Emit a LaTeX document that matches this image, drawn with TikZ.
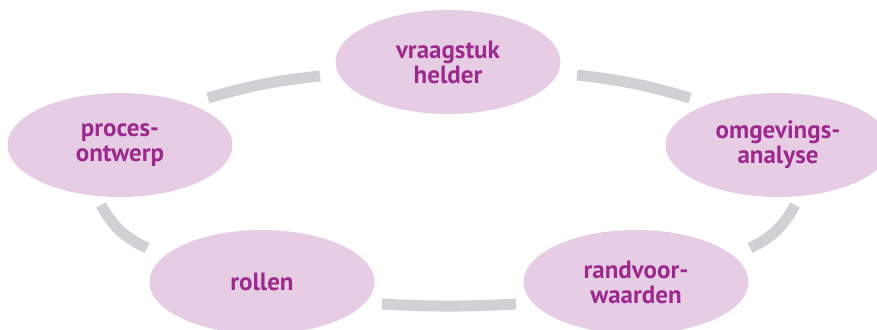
\documentclass[tikz,border=0pt]{standalone}
\usepackage{fontspec}
\setmainfont{PT Sans}
\usetikzlibrary{shapes.geometric}
\definecolor{ellfill}{HTML}{E6CDE4}
\definecolor{txtpurple}{HTML}{9C2A8E}
\definecolor{ringgray}{HTML}{D0D1D3}
\tikzset{
  stage/.style={ellipse, fill=ellfill, draw=none, minimum width=225pt, minimum height=104pt,
    inner sep=0pt, align=center, text=txtpurple,
    font=\fontsize{25}{25}\selectfont\bfseries},
  ring/.style={draw=ringgray, line width=11pt, line cap=butt}
}
\begin{document}
\begin{tikzpicture}[x=1pt,y=-1pt]
\useasboundingbox (0,0) rectangle (877,329);
% ring segments
\coordinate (a1) at (208,98);
\coordinate (a2) at (320,76);
\coordinate (b1) at (577,75);
\coordinate (b2) at (690,98);
\coordinate (c1) at (795,205);
\coordinate (c2) at (750,248);
\coordinate (d1) at (516,304);
\coordinate (d2) at (382,304);
\coordinate (e1) at (147,248);
\coordinate (e2) at (101,205);
\draw[ring] (a1) to[bend left=5] (a2);
\draw[ring] (b1) to[bend left=5] (b2);
\draw[ring] (c1) to[bend left=18] (c2);
\draw[ring] (d1) to[bend left=3] (d2);
\draw[ring] (e1) to[bend left=18] (e2);
% stages
\node[stage] (vraag) at (448,62) {vraagstuk\\helder};
\node[stage] (omg) at (778,145) {omgevings-\\analyse};
\node[stage] (rand) at (636,282) {randvoor-\\waarden};
\node[stage] (rol) at (262,282) {rollen};
\node[stage] (proc) at (120,145) {proces-\\ontwerp};
\end{tikzpicture}
\end{document}
